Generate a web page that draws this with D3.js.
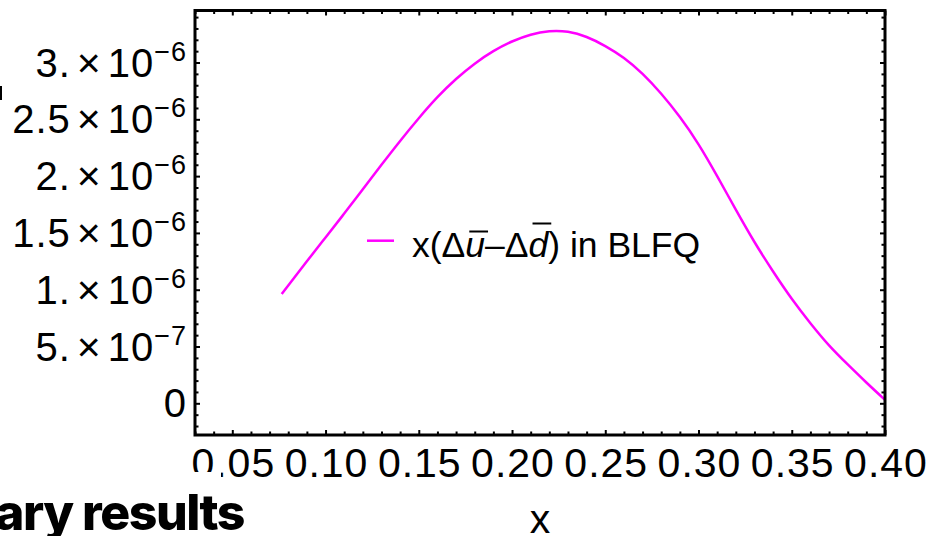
<!DOCTYPE html>
<html>
<head>
<meta charset="utf-8">
<script src="https://cdn.jsdelivr.net/npm/d3@7"></script>
<style>
    body { margin: 0; background: #fff; }
    svg { display: block; }
    text { font-family: "Liberation Sans", Arial, sans-serif; fill: #000; }
    text.slide { font-family: Inter, "Noto Sans", sans-serif; font-weight: 800; }
</style>
</head>
<body>
<svg id="chart" width="926" height="536"></svg>
<script>
/**
 * Curve x(Δū−Δd̄) in BLFQ.
 * Values are in units of 1e-6.
 */
var X_VALUES = [0.0765, 0.09, 0.10, 0.11, 0.12, 0.13, 0.14, 0.15, 0.16, 0.17,
                0.18, 0.19, 0.20, 0.21, 0.22, 0.23, 0.24, 0.25, 0.26, 0.27,
                0.28, 0.29, 0.30, 0.31, 0.32, 0.33, 0.34, 0.35, 0.36, 0.37,
                0.38, 0.39, 0.40];
var Y_VALUES = [0.962, 1.25, 1.46, 1.67, 1.885, 2.10, 2.31, 2.51, 2.695, 2.855,
                2.99, 3.10, 3.185, 3.245, 3.275, 3.27, 3.225, 3.145, 3.04, 2.90,
                2.725, 2.52, 2.28, 2.0, 1.705, 1.42, 1.16, 0.92, 0.705, 0.51,
                0.342, 0.183, 0.03];

var X_TICKS       = [0.05, 0.10, 0.15, 0.20, 0.25, 0.30, 0.35, 0.40];
var X_TICK_LABELS = ["0.05", "0.10", "0.15", "0.20", "0.25", "0.30", "0.35", "0.40"];
var Y_TICKS       = [0, 0.5, 1.0, 1.5, 2.0, 2.5, 3.0];
var Y_MANTISSA    = ["0", "5.", "1.", "1.5", "2.", "2.5", "3."];
var Y_EXPONENT    = [null, "\u22127", "\u22126", "\u22126", "\u22126", "\u22126", "\u22126"];
var X_LABEL       = "x";
var SLIDE_TEXT    = "ary results";

var MAGENTA = "#ff00ff";

var svg = d3.select("#chart");

var x = d3.scaleLinear().domain([0.03, 0.40]).range([195, 885]);
var y = d3.scaleLinear().domain([-0.279, 3.458]).range([435, 10.5]);

var minorX = d3.range(3, 41).map(function(d) { return d / 100; })
    .filter(function(d) { return Math.round(d * 100) % 5 !== 0; });
var minorY = d3.range(-2, 35).map(function(d) { return d / 10; })
    .filter(function(d) { return Math.round(d * 10) % 5 !== 0; });

// frame ticks, all pointing inwards
function ticks(axis, values, size, transform) {
    var g = svg.append("g")
        .attr("transform", transform)
        .call(axis.tickValues(values).tickSize(size).tickFormat(""));
    g.select(".domain").remove();
    g.selectAll(".tick line").attr("stroke", "#000").attr("stroke-width", 2);
    return g;
}
ticks(d3.axisBottom(x), X_TICKS, -5, "translate(0,435)");
ticks(d3.axisBottom(x), minorX, -3.5, "translate(0,435)");
ticks(d3.axisTop(x), X_TICKS, -5, "translate(0,10.5)");
ticks(d3.axisTop(x), minorX, -3.5, "translate(0,10.5)");
ticks(d3.axisLeft(y), Y_TICKS, -5, "translate(195,0)");
ticks(d3.axisLeft(y), minorY, -3.5, "translate(195,0)");
ticks(d3.axisRight(y), Y_TICKS, -5, "translate(885,0)");
ticks(d3.axisRight(y), minorY, -3.5, "translate(885,0)");

// curve
var line = d3.line()
    .x(function(d, i) { return x(X_VALUES[i]); })
    .y(function(d) { return y(d); })
    .curve(d3.curveNatural);

svg.append("path")
    .datum(Y_VALUES)
    .attr("d", line)
    .attr("fill", "none")
    .attr("stroke", MAGENTA)
    .attr("stroke-width", 2.5);

// frame
svg.append("rect")
    .attr("x", 195).attr("y", 10.5)
    .attr("width", 690).attr("height", 424.5)
    .attr("fill", "none")
    .attr("stroke", "#000")
    .attr("stroke-width", 3);

// x tick labels
svg.append("g").selectAll("text")
    .data(X_TICKS)
    .join("text")
    .attr("x", function(d) { return x(d) + 1; })
    .attr("y", 477)
    .attr("text-anchor", "middle")
    .attr("font-size", 41)
    .attr("letter-spacing", 1)
    .text(function(d, i) { return X_TICK_LABELS[i]; });

// y tick labels with a power of ten
var yl = svg.append("g").selectAll("text")
    .data(Y_TICKS)
    .join("text")
    .attr("x", 187)
    .attr("y", function(d) { return y(d) + 14; })
    .attr("text-anchor", "end")
    .attr("font-size", 40)
    .attr("letter-spacing", 1);
yl.each(function(d, i) {
    var t = d3.select(this);
    t.append("tspan").text(Y_MANTISSA[i]);
    if (!Y_EXPONENT[i]) return;
    t.append("tspan").attr("dx", 6).attr("font-size", 41).text("\u00d7");
    t.append("tspan").attr("dx", 6).text("10");
    t.append("tspan").attr("dy", -16).attr("font-size", 27).text(Y_EXPONENT[i]);
});

svg.append("text")
    .attr("x", 540).attr("y", 533)
    .attr("text-anchor", "middle")
    .attr("font-size", 41)
    .text(X_LABEL);

// legend
svg.append("line")
    .attr("x1", 367).attr("x2", 394)
    .attr("y1", 240.7).attr("y2", 240.7)
    .attr("stroke", MAGENTA)
    .attr("stroke-width", 2.5);

var legend = svg.append("text")
    .attr("x", 412).attr("y", 256.5)
    .attr("font-size", 35.5);
legend.append("tspan").text("x(\u0394");
legend.append("tspan").attr("font-style", "italic").text("u");
legend.append("tspan").text("\u2013\u0394");
legend.append("tspan").attr("font-style", "italic").text("d");
legend.append("tspan").text(") in BLFQ");

// overbars on the italic u and d
[[3, 231.5], [6, 223.5]].forEach(function(b) {
    var r = legend.node().getExtentOfChar(b[0]);
    svg.append("line")
        .attr("x1", r.x + 4).attr("x2", r.x + r.width + 3)
        .attr("y1", b[1]).attr("y2", b[1])
        .attr("stroke", "#000")
        .attr("stroke-width", 2);
});

// slide behind the plot covers part of the first tick label
svg.append("rect")
    .attr("x", 0).attr("y", 472)
    .attr("width", 221).attr("height", 64)
    .attr("fill", "#fff");
svg.append("text")
    .attr("class", "slide")
    .attr("x", 244).attr("y", 530)
    .attr("text-anchor", "end")
    .attr("font-size", 50)
    .attr("letter-spacing", -1.5)
    .text(SLIDE_TEXT);
svg.append("rect")
    .attr("x", 0).attr("y", 86)
    .attr("width", 2).attr("height", 14)
    .attr("fill", "#000");
</script>
</body>
</html>
